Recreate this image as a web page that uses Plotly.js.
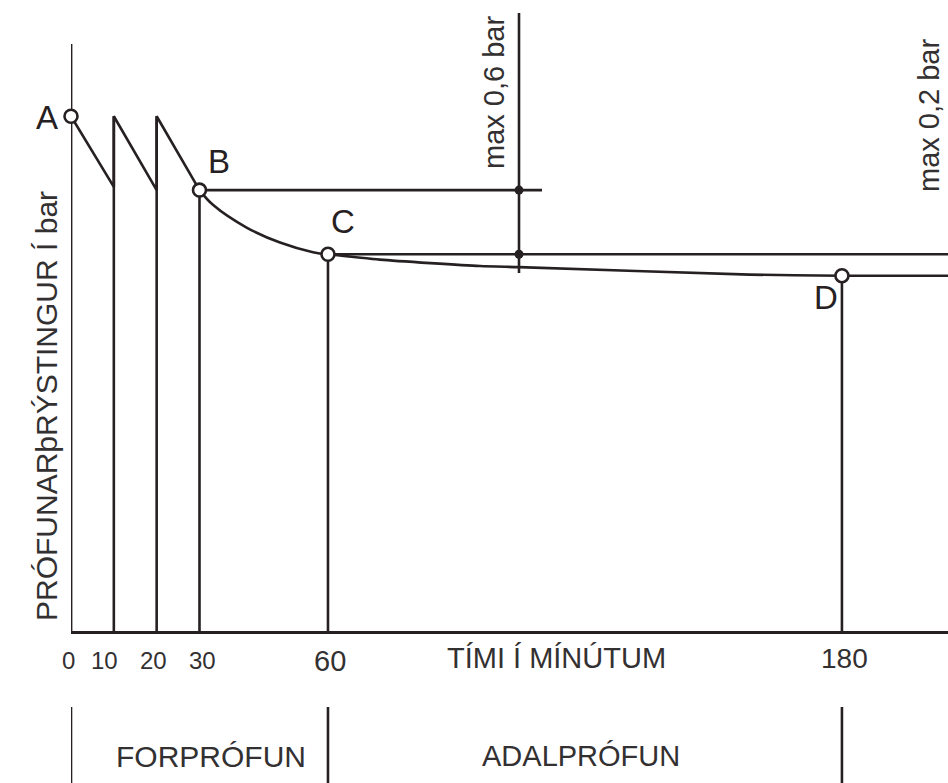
<!DOCTYPE html>
<html>
<head>
<meta charset="utf-8">
<script src="https://cdn.plot.ly/plotly-3.0.1.min.js"></script>
<style>html,body{margin:0;padding:0;background:#fff;}#chart{width:948px;height:783px;}</style>
</head>
<body>
<div id="chart"></div>
<script>
// ---- data (minutes, bar) ----
const sawMinutes = [0, 10, 10, 20, 20, 30];
const sawPressure = [4.82, 4.16, 4.82, 4.13, 4.82, 4.13];
const curveMinutes = [30, 33.2, 41.0, 48.8, 56.5, 60];
const curvePressure = [4.13, 3.99, 3.78, 3.64, 3.55, 3.53];
const mainMinutes = [60, 72.1, 95.5, 104.6, 158.5, 180, 204.8];
const mainPressure = [3.53, 3.48, 3.42, 3.41, 3.34, 3.33, 3.33];
const pointNames = ['A', 'B', 'C', 'D'];
const pointMinutes = [0, 30, 60, 180];
const pointPressure = [4.82, 4.13, 3.53, 3.33];
const checkMinute = 104.6;
const levelB = 4.13;
const levelC = 3.53;
const tickValues = [0, 10, 20, 30, 60, 180];
const tickLabels = ['0', '10', '20', '30', '60', '180'];
const phaseBounds = [0, 60, 180];
const phaseNames = ['FORPRÓFUN', 'ADALPRÓFUN'];
const yTitle = 'PRÓFUNARþRÝSTINGUR Í bar';
const xTitle = 'TÍMI Í MÍNÚTUM';
const limitLabels = ['max 0,6 bar', 'max 0,2 bar'];

// ---- layout helpers (pixel -> data / paper) ----
const W = 948, H = 783;
const X0 = 71, PXM = 4.283, Y0 = 632, PXB = 107;
const xr = [0, (W - X0) / PXM];
const yr = [-(H - Y0) / PXB, Y0 / PXB];
const px2x = p => (p - X0) / PXM;
const py2y = p => (Y0 - p) / PXB;
const ppx = p => (p - X0) / (W - X0);
const ppy = p => (H - p) / H;

const ink = '#262022';
const txt = '#333031';
const LW = 2.6;

const traces = [];
function seg(x, y, w) {
  traces.push({x: x, y: y, mode: 'lines', line: {color: ink, width: w || LW}, hoverinfo: 'skip', showlegend: false});
}
// y axis line
seg([0, 0], [0, py2y(44)], 2.8);
// drop lines
const dx = [], dy = [];
[[10, sawPressure[2]], [20, sawPressure[4]], [30, levelB], [60, levelC], [180, pointPressure[3]]].forEach(d => { dx.push(d[0], d[0], null); dy.push(0, d[1], null); });
seg(dx, dy);
// sawtooth
seg(sawMinutes, sawPressure);
// curve B-C
traces.push({x: curveMinutes, y: curvePressure, mode: 'lines', line: {color: ink, width: LW, shape: 'spline', smoothing: 1}, hoverinfo: 'skip', showlegend: false});
// C-D and beyond
traces.push({x: mainMinutes, y: mainPressure, mode: 'lines', line: {color: ink, width: LW, shape: 'spline', smoothing: 0.6}, hoverinfo: 'skip', showlegend: false});
// reference levels
seg([30, px2x(542)], [levelB, levelB]);
seg([60, xr[1]], [levelC, levelC]);
seg([checkMinute, checkMinute], [py2y(273), py2y(13)]);
// phase separators
const sx = [], sy = [];
phaseBounds.forEach(b => { sx.push(b, b, null); sy.push(py2y(707), yr[0], null); });
seg(sx, sy);
// check dots
traces.push({x: [checkMinute, checkMinute], y: [levelB, levelC], mode: 'markers', marker: {color: ink, size: 9}, hoverinfo: 'skip', showlegend: false});
// open circles
traces.push({x: pointMinutes, y: pointPressure, mode: 'markers', cliponaxis: false, marker: {color: '#fff', size: 13, symbol: 'circle', line: {color: ink, width: 2.6}}, hoverinfo: 'skip', showlegend: false});

const F = '"Liberation Sans", Arial, sans-serif';
const ann = [];
function label(px, py, text, size, opts) {
  ann.push(Object.assign({xref: 'paper', yref: 'paper', x: ppx(px), y: ppy(py), xanchor: 'center', yanchor: 'middle', text: text, showarrow: false, font: {family: F, size: size, color: txt}}, opts || {}));
}
// point letters
const letterPos = [[47, 117], [219, 161], [343, 222], [826, 297]];
pointNames.forEach((n, i) => label(letterPos[i][0], letterPos[i][1], n, 33, {font: {family: F, size: 33, color: ink}}));
// tick labels
const tickPx = [68, 104, 153, 202, 330, 844];
const tickSize = [24, 24, 24, 24, 29, 28];
const tickPy = [660, 660, 660, 660, 661, 658];
tickLabels.forEach((t, i) => label(tickPx[i], tickPy[i], t, tickSize[i]));
// axis titles
label(556, 658, xTitle, 29);
label(46, 406, yTitle, 30, {textangle: -90});
// phase names
label(211, 756, phaseNames[0], 30);
label(581, 756, phaseNames[1], 29);
// limit labels
label(494, 93, limitLabels[0], 29, {textangle: -90});
label(929, 116, limitLabels[1], 29, {textangle: -90});

const layout = {
  width: W, height: H,
  margin: {l: X0, r: 0, t: 0, b: 0},
  paper_bgcolor: '#fff', plot_bgcolor: '#fff',
  showlegend: false,
  xaxis: {range: xr, showgrid: false, zeroline: false, showline: false, showticklabels: false, ticks: '', fixedrange: true},
  yaxis: {range: yr, showgrid: false, zeroline: true, zerolinecolor: ink, zerolinewidth: 3, showline: false, showticklabels: false, ticks: '', fixedrange: true},
  annotations: ann
};
Plotly.newPlot('chart', traces, layout, {displayModeBar: false, staticPlot: true});
</script>
</body>
</html>
